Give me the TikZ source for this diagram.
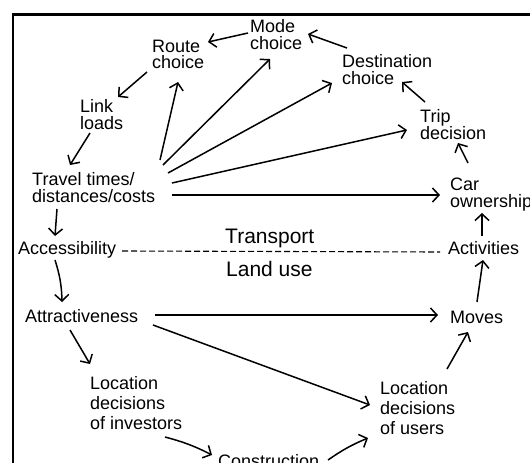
\documentclass[tikz,border=0pt]{standalone}
\usepackage{fontspec}
\setmainfont{Liberation Sans}
\usetikzlibrary{arrows.meta}
% left-aligned stack of lines whose base is the first line's baseline
\newcommand\txtstack[1]{\vtop{\lineskiplimit=-20pt\halign{##\hfil\cr#1\crcr}}}
\tikzset{
  lbl/.style={inner sep=0pt, anchor=base west, font=\fontsize{18}{17}\selectfont},
  lblwide/.style={inner sep=0pt, anchor=base west, font=\fontsize{18}{20}\selectfont},
  lblbig/.style={inner sep=0pt, anchor=base west, font=\fontsize{21}{21}\selectfont},
  link/.style={line width=1.5pt, -{Straight Barb[length=6.5pt,width=14pt,line width=1.5pt]}},
  frame/.style={line width=2.5pt},
  divide/.style={line width=1.1pt, dash pattern=on 6pt off 3pt}
}
\begin{document}
\begin{tikzpicture}[x=1pt,y=-1pt]
\useasboundingbox (0,0) rectangle (530,463);
\clip (0,0) rectangle (530,463);

% outer frame, running off the right and bottom edges
\draw[frame] (13.2,480) -- (13.2,14.4) -- (545,14.4);

% transport side
\node[lbl] (mode)  at (250,32)  {\txtstack{Mode\cr choice}};
\node[lbl] (route) at (152,52)  {\txtstack{Route\cr choice}};
\node[lbl] (dest)  at (342,67)  {\txtstack{Destination\cr choice}};
\node[lbl] (loads) at (80,112)  {\txtstack{Link\cr loads}};
\node[lbl] (trip)  at (420,122) {\txtstack{Trip\cr decision}};
\node[lbl] (travel) at (32,185) {\txtstack{Travel times/\cr distances/costs}};
\node[lbl] (car)   at (450,190) {\txtstack{Car\cr ownership}};

% divide between the two subsystems
\node[lbl] (access) at (18,254)  {Accessibility};
\node[lbl] (activ)  at (448,254) {Activities};
\node[lblbig] (transport) at (225,243) {Transport};
\node[lblbig] (landuse)   at (226,276) {Land use};

% land-use side
\node[lbl] (attract) at (25,322)  {Attractiveness};
\node[lbl] (moves)   at (450,323) {Moves};
\node[lblwide] (invest) at (90,389)  {\txtstack{Location\cr decisions\cr of investors}};
\node[lblwide] (users)  at (380,394) {\txtstack{Location\cr decisions\cr of users}};
\node[lbl] (constr)  at (218,467) {Construction};

\draw[divide] ([shift={(104,-3)}]access.base west) -- ([shift={(-8,-2)}]activ.base west);

% the outer cycle
\draw[link] ([shift={(5,-19)}]dest.base west)   -- ([shift={(58,2)}]mode.base west);
\draw[link] ([shift={(-2,1)}]mode.base west)    -- ([shift={(56,-10)}]route.base west);
\draw[link] ([shift={(-5,20)}]route.base west)  -- ([shift={(38,-15)}]loads.base west);
\draw[link] ([shift={(10,21)}]loads.base west)  -- ([shift={(38,-20)}]travel.base west);
\draw[link] ([shift={(25,24)}]travel.base west) -- ([shift={(37,-18)}]access.base west);
\draw[link] ([shift={(37,6)}]access.base west)  to[bend left=8] ([shift={(37,-20)}]attract.base west);
\draw[link] ([shift={(45,8)}]attract.base west) -- ([shift={(0,-25)}]invest.base west);
\draw[link] ([shift={(75,48)}]invest.base west) to[bend left=6] ([shift={(-6,-12)}]constr.base west);
\draw[link] ([shift={(110,-7)}]constr.base west) to[bend left=6] ([shift={(-12,44)}]users.base west);
\draw[link] ([shift={(67,-25)}]users.base west) -- ([shift={(18,9)}]moves.base west);
\draw[link] ([shift={(27,-21)}]moves.base west) -- ([shift={(35,6)}]activ.base west);
\draw[link] ([shift={(34,-18)}]activ.base west) -- ([shift={(32,23)}]car.base west);
\draw[link] ([shift={(18,-27)}]car.base west)   -- ([shift={(38,21)}]trip.base west);
\draw[link] ([shift={(5,-20)}]trip.base west)   -- ([shift={(60,15)}]dest.base west);

% fan out of travel times/distances/costs
\draw[link] ([shift={(128,-25)}]travel.base west) -- ([shift={(26,30)}]route.base west);
\draw[link] ([shift={(131,-20)}]travel.base west) -- ([shift={(20,27)}]mode.base west);
\draw[link] ([shift={(136,-12)}]travel.base west) -- ([shift={(-10,16)}]dest.base west);
\draw[link] ([shift={(140,-2)}]travel.base west)  -- ([shift={(-13,8)}]trip.base west);
\draw[link] ([shift={(140,10)}]travel.base west)  -- ([shift={(-10,5)}]car.base west);

% attractiveness drives moves and users' location decisions
\draw[link] ([shift={(130,-7)}]attract.base west) -- ([shift={(-12,-8)}]moves.base west);
\draw[link] ([shift={(128,3)}]attract.base west)  -- ([shift={(-10,11)}]users.base west);
\end{tikzpicture}
\end{document}
